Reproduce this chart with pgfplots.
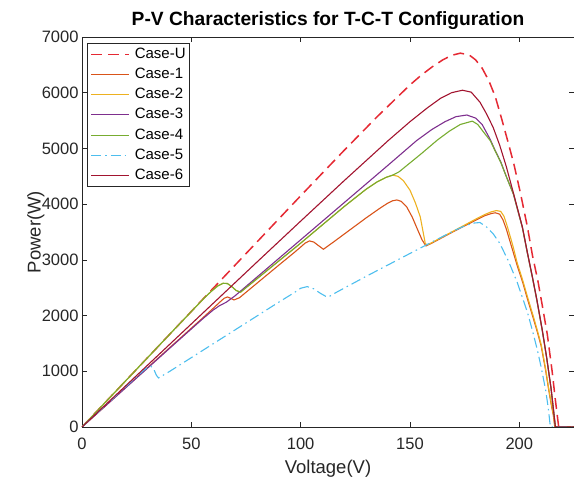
\documentclass[border=0pt]{standalone}
\usepackage{fontspec}
\setmainfont{Liberation Sans}
\usepackage{pgfplots}
\pgfplotsset{compat=1.18}

\definecolor{axgray}{rgb}{0.15,0.15,0.15}
\definecolor{cU}{rgb}{0.90,0.16,0.20}
\definecolor{c1}{rgb}{0.850,0.325,0.098}
\definecolor{c2}{rgb}{0.929,0.694,0.125}
\definecolor{c3}{rgb}{0.494,0.184,0.556}
\definecolor{c4}{rgb}{0.466,0.674,0.188}
\definecolor{c5}{rgb}{0.301,0.745,0.933}
\definecolor{c6}{rgb}{0.635,0.078,0.184}

\begin{document}
\begin{tikzpicture}
\useasboundingbox (-82pt,-52pt) rectangle (492pt,427pt);
\begin{axis}[
    at={(0pt,0pt)}, anchor=south west,
    scale only axis, width=492pt, height=390pt,
    xmin=0, xmax=225, ymin=0, ymax=7000,
    xtick={0,50,100,150,200},
    ytick={0,1000,2000,3000,4000,5000,6000,7000},
    axis line style={axgray, line width=0.7pt},
    tick style={axgray, line width=0.7pt},
    tick align=inside,
    major tick length=5pt,
    /pgf/number format/assume math mode=true,
    /pgf/number format/1000 sep={},
    ticklabel style={font=\fontsize{16.5}{18}\selectfont, text=axgray},
    xticklabel style={anchor=base, yshift=-23pt},
    xlabel={Voltage(V)},
    ylabel={Power(W)},
    label style={font=\fontsize{18.5}{20}\selectfont, text=axgray},
    xlabel style={at={(axis description cs:0.5,-0.1205)}, anchor=base},
    ylabel style={at={(axis description cs:-0.0843,0.5)}, anchor=base},
    title={P-V Characteristics for T-C-T Configuration},
    title style={font=\bfseries\fontsize{19.2}{22}\selectfont,
        at={(axis description cs:0.5,1.0154)}, anchor=base},
    legend cell align=left,
    legend image code/.code={\draw[#1] (0pt,0pt) -- (38pt,0pt);},
    legend style={at={(0,1)}, anchor=north west, xshift=5pt, yshift=-6pt,
        draw=axgray, line width=0.6pt, fill=white,
        font=\fontsize{15}{18}\selectfont,
        inner xsep=3pt, inner ysep=3pt, row sep=4.2pt,
        /tikz/every odd column/.append style={column sep=4pt},
        nodes={inner sep=1pt, text height=11pt, text depth=3pt}},
]
% Case-U
\addplot[cU, line width=1.5pt, dash pattern=on 11pt off 6pt] coordinates {
(0,0)(20,830)(40,1660)(60,2490)(80,3320)(100,4150)(120,4970)(135,5570)
(145,5950)(150,6140)(155,6310)(160,6460)(165,6590)(169,6670)(173,6710)
(177,6680)(180,6590)(183,6440)(186,6220)(189,5930)(192,5520)(195,5090)
(197.5,4720)(200.5,4200)(203.7,3590)(206,3080)(208.5,2620)(210.5,2180)
(212.8,1660)(215,1000)(216.5,480)(218,0)(225,0)};
% Case-1
\addplot[c1, line width=1.1pt] coordinates {
(0,0)(20,710)(40,1420)(55,1950)(60,2130)(63,2240)(65,2310)(66.5,2334)
(68,2310)(69.5,2280)(72,2320)(80,2580)(90,2905)(97,3130)(100,3230)
(102,3300)(104,3340)(106,3320)(108,3260)(110.4,3190)(115,3320)(120,3465)
(130,3755)(136,3920)(139.5,4010)(142,4060)(144,4075)(146,4050)(148.5,3950)
(151,3770)(153.5,3540)(155.5,3360)(157.3,3250)(160,3300)(165,3405)
(170,3510)(175,3610)(180,3710)(184,3790)(187,3830)(189,3845)(191,3820)
(192.5,3720)(194,3560)(196.5,3230)(199,2900)(201.5,2600)(203.7,2300)
(206,2000)(208.2,1710)(210,1450)(212,1020)(213.3,700)(214.5,420)
(215.6,200)(216.2,0)(225,0)};
% Case-2
\addplot[c2, line width=1.1pt] coordinates {
(0,0)(20,830)(40,1660)(56,2320)(59,2430)(62,2530)(64.5,2580)(66.5,2575)
(68.5,2520)(70.5,2450)(72.5,2420)(80,2660)(100,3300)(120,3960)(130,4270)
(135,4400)(139,4480)(142,4520)(144.5,4500)(147,4420)(150,4250)
(152.5,4020)(154.7,3770)(156,3500)(157,3290)(158,3270)(160,3310)
(165,3415)(170,3520)(175,3625)(180,3730)(184,3810)(187,3860)(189.5,3885)
(191.5,3870)(193,3780)(194.5,3600)(197,3260)(199,2950)(201.5,2640)
(203.7,2340)(206,2040)(208.2,1740)(210,1480)(212,1050)(213.3,720)
(214.5,450)(215.6,220)(216.3,0)(225,0)};
% Case-3
\addplot[c3, line width=1.1pt] coordinates {
(0,0)(20,705)(40,1410)(55,1935)(60,2100)(63,2180)(66,2240)(70,2355)
(80,2690)(100,3360)(120,4030)(140,4700)(153,5140)(160,5340)(166,5480)
(171,5570)(176,5600)(180,5545)(183,5430)(186.7,5160)(189,4960)
(191.5,4760)(194,4500)(197.3,4180)(201.4,3580)(203.7,3120)(206,2680)
(208,2280)(210.5,1730)(212.5,1240)(214.5,690)(216.5,0)(225,0)};
% Case-4
\addplot[c4, line width=1.1pt] coordinates {
(0,0)(20,830)(40,1660)(56,2320)(59,2430)(62,2530)(64.5,2580)(66.5,2575)
(68.5,2520)(70.5,2450)(72.5,2420)(80,2660)(100,3300)(120,3960)(130,4270)
(135,4400)(139,4480)(142,4520)(145,4580)(150,4740)(155,4900)(162.5,5150)
(168,5310)(173,5430)(178.5,5490)(181,5430)(183.5,5300)(186.7,5140)
(189,4950)(191.5,4750)(194,4500)(197.3,4180)(201.4,3580)(203.7,3120)
(206,2680)(208,2280)(210.5,1730)(212.5,1240)(214.5,690)(216.5,0)(225,0)};
% Case-5
\addplot[c5, line width=1.1pt, dash pattern=on 10pt off 4pt on 1.5pt off 4pt] coordinates {
(0,0)(20,725)(28,1010)(30,1075)(31.5,1090)(32.8,1040)(34,930)(35,880)
(40,996)(50,1245)(60,1494)(70,1743)(80,1992)(90,2241)(97,2410)(100,2490)
(103,2520)(106,2480)(109,2400)(111.5,2345)(112.7,2333)(116,2410)
(120,2495)(130,2705)(140,2910)(150,3115)(160,3320)(170,3520)(175,3610)
(179,3660)(182,3670)(185,3590)(188,3470)(191,3300)(195,2980)(199,2600)
(203.7,2060)(206,1730)(208.2,1390)(210,1070)(212,670)(213.2,350)
(214.2,0)(225,0)};
% Case-6
\addplot[c6, line width=1.1pt] coordinates {
(0,0)(20,740)(40,1480)(60,2220)(80,2960)(100,3695)(120,4425)(140,5140)
(150,5480)(158,5730)(164,5900)(169,6000)(174,6045)(178,6010)(182,5830)
(185,5620)(188,5380)(191,5060)(194,4680)(197.3,4200)(201.4,3590)
(203.7,3130)(206,2690)(208,2290)(210.5,1740)(212.5,1250)(214.5,700)
(216.5,0)(225,0)};
\legend{Case-U, Case-1, Case-2, Case-3, Case-4, Case-5, Case-6}
\end{axis}
\end{tikzpicture}
\end{document}
